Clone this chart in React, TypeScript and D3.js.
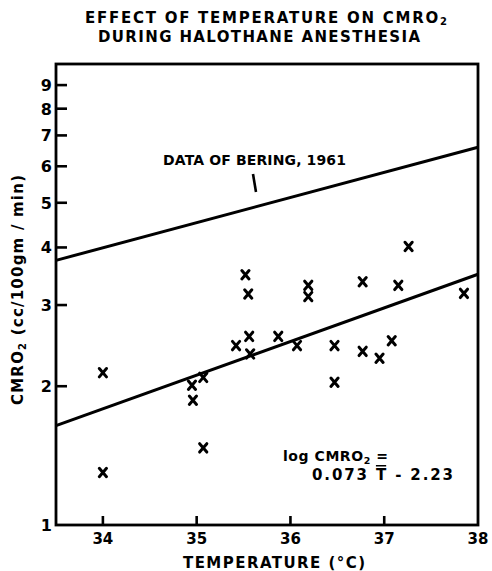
import React from "react";
import * as d3 from "d3";

// CMRO2 observations during halothane anesthesia: temperature (°C) and CMRO2 (cc/100gm/min)
const temps = [34.0, 34.0, 35.07, 34.95, 34.96, 35.07, 35.42, 35.52, 35.55, 35.56, 35.57, 35.87, 36.07, 36.19, 36.19, 36.47, 36.47, 36.77, 36.77, 36.95, 37.08, 37.15, 37.26, 37.85];
const cmro2 = [2.14, 1.3, 1.47, 2.01, 1.865, 2.09, 2.45, 3.49, 3.17, 2.565, 2.35, 2.565, 2.45, 3.31, 3.13, 2.45, 2.04, 3.37, 2.38, 2.3, 2.51, 3.31, 4.02, 3.18];

// Regression: log CMRO2 = 0.073 T - 2.23
const fitSlope = 0.073;
const fitIntercept = -2.23;

// Reference line (Bering, 1961) given by its end values
const beringTemps = [33.5, 38];
const beringValues = [3.75, 6.6];

const xTicks = [34, 35, 36, 37, 38];
const yTicks = [1, 2, 3, 4, 5, 6, 7, 8, 9];

const W = 492;
const H = 571;
const left = 56;
const right = 478;
const top = 64;
const bottom = 525;

const FONT = "'DejaVu Sans', Verdana, sans-serif";

export default function App() {
  const x = d3.scaleLinear().domain([33.5, 38]).range([left, right]);
  const y = d3.scaleLog().domain([1, 10]).range([bottom, top]);

  const fitTemps = [33.5, 38];
  const fitLine = d3
    .line<number>()
    .x((t) => x(t))
    .y((t) => y(Math.pow(10, fitSlope * t + fitIntercept)));

  const beringLine = d3
    .line<number>()
    .x((_, i) => x(beringTemps[i]))
    .y((_, i) => y(beringValues[i]));

  const s = 3.6;

  return (
    <svg
      width={W}
      height={H}
      style={{ position: "absolute", left: 0, top: 0, background: "#fff" }}
      fontFamily={FONT}
      fontWeight="bold"
    >
      {/* title */}
      <text x={266} y={23} textAnchor="middle" fontSize={15} textLength={362} lengthAdjust="spacing">
        EFFECT OF TEMPERATURE ON CMRO
        <tspan fontSize={10} dy={2}>2</tspan>
      </text>
      <text x={259} y={42} textAnchor="middle" fontSize={15} textLength={322} lengthAdjust="spacing">
        DURING HALOTHANE ANESTHESIA
      </text>

      {/* frame */}
      <rect x={left} y={top} width={right - left} height={bottom - top} fill="none" stroke="#000" strokeWidth={2.8} />

      {/* y ticks */}
      {yTicks.map((v) => (
        <g key={"y" + v}>
          {v > 1 && <line x1={left} x2={left + 11} y1={y(v)} y2={y(v)} stroke="#000" strokeWidth={2.6} />}
          <text x={52} y={y(v) + 6} textAnchor="end" fontSize={16}>
            {v}
          </text>
        </g>
      ))}

      {/* x ticks */}
      {xTicks.map((t) => (
        <g key={"x" + t}>
          {t < 38 && <line x1={x(t)} x2={x(t)} y1={bottom} y2={bottom - 9} stroke="#000" strokeWidth={2.6} />}
          <text x={x(t)} y={544} textAnchor="middle" fontSize={15}>
            {t}
          </text>
        </g>
      ))}

      {/* axis titles */}
      <text x={274} y={568} textAnchor="middle" fontSize={15} textLength={182} lengthAdjust="spacing">
        TEMPERATURE (°C)
      </text>
      <text
        transform={`translate(23,290) rotate(-90)`}
        textAnchor="middle"
        fontSize={15}
        textLength={230}
        lengthAdjust="spacing"
      >
        CMRO<tspan fontSize={10} dy={3}>2</tspan>
        <tspan dy={-3}> (cc/100gm / min)</tspan>
      </text>

      {/* lines */}
      <path d={beringLine(beringTemps) ?? ""} fill="none" stroke="#000" strokeWidth={3} />
      <path d={fitLine(fitTemps) ?? ""} fill="none" stroke="#000" strokeWidth={3} />

      {/* Bering label and pointer */}
      <text x={163} y={165} fontSize={14} textLength={183} lengthAdjust="spacing">
        DATA OF BERING, 1961
      </text>
      <line x1={253} y1={174} x2={256} y2={192} stroke="#000" strokeWidth={2.6} />

      {/* data points */}
      {temps.map((t, i) => {
        const cx = x(t);
        const cy = y(cmro2[i]);
        return (
          <path
            key={"p" + i}
            d={`M${cx - s},${cy - s - 0.6}L${cx + s},${cy + s + 0.6}M${cx + s},${cy - s - 0.6}L${cx - s},${cy + s + 0.6}`}
            stroke="#000"
            strokeWidth={3}
            strokeLinecap="round"
            fill="none"
          />
        );
      })}

      {/* regression equation */}
      <text x={283} y={461} fontSize={14} textLength={105} lengthAdjust="spacing">
        log CMRO<tspan fontSize={9.5} dy={2.5}>2</tspan>
        <tspan dy={-2.5}> =</tspan>
      </text>
      <text x={312} y={480} fontSize={15} textLength={141} lengthAdjust="spacing">
        0.073 <tspan style={{ textDecoration: "overline" }}>T</tspan> - 2.23
      </text>
    </svg>
  );
}
